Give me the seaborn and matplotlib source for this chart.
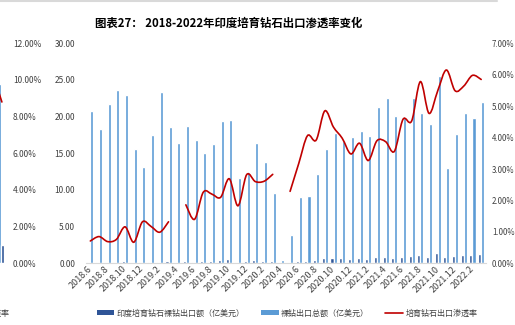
import matplotlib
matplotlib.use("Agg")
import numpy as np
import pandas as pd
import seaborn as sns
import matplotlib.pyplot as plt
from matplotlib.path import Path
from matplotlib.patches import PathPatch, Patch
from matplotlib.lines import Line2D

# ---------------- data ----------------
months = ["2018.6", "2018.7", "2018.8", "2018.9", "2018.10", "2018.11", "2018.12",
          "2019.1", "2019.2", "2019.3", "2019.4", "2019.5", "2019.6", "2019.7", "2019.8",
          "2019.9", "2019.10", "2019.11", "2019.12", "2020.1", "2020.2", "2020.3", "2020.4",
          "2020.5", "2020.6", "2020.7", "2020.8", "2020.9", "2020.10", "2020.11", "2020.12",
          "2021.1", "2021.2", "2021.3", "2021.4", "2021.5", "2021.6", "2021.7", "2021.8",
          "2021.9", "2021.10", "2021.11", "2021.12", "2022.1", "2022.2", "2022.3"]

# 印度培育钻石裸钻出口额（亿美元）
lab_export = [0.15, 0.16, 0.15, 0.18, 0.27, 0.10, 0.17, 0.20, 0.23, 0.25, 0.0, 0.35,
              0.24, 0.34, 0.36, 0.41, 0.52, 0.21, 0.35, 0.43, 0.36, 0.27, 0.0, 0.09,
              0.29, 0.37, 0.48, 0.76, 0.77, 0.66, 0.60, 0.69, 0.57, 0.83, 0.87, 0.72,
              0.91, 1.02, 1.18, 0.91, 1.40, 0.80, 0.97, 1.16, 1.18, 1.29]

# 裸钻出口总额（亿美元）
total_export = [20.8, 18.3, 21.7, 23.6, 23.0, 15.6, 13.1, 17.5, 23.4, 18.6, 16.4, 18.7,
                16.8, 15.0, 16.3, 19.4, 19.5, 11.6, 12.5, 16.4, 13.8, 9.6, 0.4, 3.9,
                9.0, 9.2, 12.2, 15.6, 17.8, 16.7, 17.2, 18.0, 17.3, 21.3, 22.5, 20.1,
                19.9, 22.5, 20.5, 19.0, 25.5, 13.0, 17.6, 20.5, 19.8, 22.0]

# 培育钻石出口渗透率（%）
penetration = [0.71, 0.85, 0.69, 0.76, 1.16, 0.67, 1.32, 1.17, 0.99, 1.32, np.nan, 1.86,
               1.40, 2.26, 2.20, 2.10, 2.69, 1.83, 2.82, 2.60, 2.61, 2.83, np.nan, 2.29,
               3.18, 4.06, 3.92, 4.85, 4.33, 3.98, 3.48, 3.82, 3.27, 3.90, 3.87, 3.56,
               4.58, 4.53, 5.78, 4.77, 5.49, 6.15, 5.49, 5.64, 5.98, 5.85]

left_ticks = [0, 5, 10, 15, 20, 25, 30]
right_ticks = [0, 1, 2, 3, 4, 5, 6, 7]

# fragment of the neighbouring (cut-off) chart on the far left
frag_ticks = [0, 2, 4, 6, 8, 10, 12]
frag_light = [9.8]
frag_dark = [1.0]
frag_rate_x = [-0.5, 0.1]
frag_rate = [9.7, 8.8]

title = "图表27： 2018-2022年印度培育钻石出口渗透率变化"
name_dark = "印度培育钻石裸钻出口额（亿美元）"
name_light = "裸钻出口总额（亿美元）"
name_rate = "培育钻石出口渗透率"

c_dark = "#2F5597"
c_light = "#5B9BD5"
c_red = "#C00000"
c_text = "#404040"

# ---------------- style ----------------
sns.set_theme(style="white")
plt.rcParams["font.family"] = ["Noto Sans CJK SC", "DejaVu Sans"]

W, H = 515, 325
fig = plt.figure(figsize=(W / 100, H / 100), dpi=100)
fig.patch.set_facecolor("white")

x0, x1, y0, y1 = 86, 485.5, 43.3, 263.3
ax = fig.add_axes([x0 / W, 1 - y1 / H, (x1 - x0) / W, (y1 - y0) / H])

df = pd.DataFrame({
    "月份": months * 2,
    "系列": [name_dark] * len(months) + [name_light] * len(months),
    "值": lab_export + total_export,
})
sns.barplot(data=df, x="月份", y="值", hue="系列", hue_order=[name_dark, name_light],
            palette=[c_dark, c_light], width=0.7, saturation=1, legend=False,
            errorbar=None, ax=ax)

ax.set_xlim(-0.5, len(months) - 0.5)
ax.set_ylim(0, 30)
ax.set_yticks(left_ticks)
ax.set_yticklabels([f"{v:.2f}" for v in left_ticks])
ax.set_xticks(range(0, len(months), 2))
ax.set_xticklabels(months[::2], rotation=45, ha="right", va="center",
                   rotation_mode="anchor")
ax.set_xlabel("")
ax.set_ylabel("")
for s in ["left", "right", "top"]:
    ax.spines[s].set_visible(False)
ax.spines["bottom"].set_color("#D9D9D9")
ax.spines["bottom"].set_linewidth(0.8)
ax.tick_params(axis="y", length=0, pad=7.9, labelsize=6, labelcolor=c_text)
ax.tick_params(axis="x", length=0, pad=3, labelsize=6.5, labelcolor=c_text)
ax.grid(False)

ax2 = ax.twinx()
ax2.set_ylim(0, 7)
ax2.set_yticks(right_ticks)
ax2.set_yticklabels([f"{v:.2f}%" for v in right_ticks])
for s in ax2.spines.values():
    s.set_visible(False)
ax2.tick_params(axis="y", length=0, pad=4.6, labelsize=5.7, labelcolor=c_text)
ax2.grid(False)


def smooth_path(xs, ys):
    """Catmull-Rom style smoothing as Bezier curves through the data points."""
    pts = np.column_stack([xs, ys])
    verts = [pts[0]]
    codes = [Path.MOVETO]
    n = len(pts)
    for i in range(n - 1):
        p0 = pts[i - 1] if i > 0 else pts[i]
        p1 = pts[i]
        p2 = pts[i + 1]
        p3 = pts[i + 2] if i + 2 < n else pts[i + 1]
        c1 = p1 + (p2 - p0) / 6.0
        c2 = p2 - (p3 - p1) / 6.0
        verts += [c1, c2, p2]
        codes += [Path.CURVE4] * 3
    return Path(verts, codes)


rate = np.array(penetration, dtype=float)
xs = np.arange(len(months))
valid = ~np.isnan(rate)
start = None
for i in range(len(rate) + 1):
    ok = i < len(rate) and valid[i]
    if ok and start is None:
        start = i
    elif not ok and start is not None:
        seg = slice(start, i)
        if i - start > 1:
            ax2.add_patch(PathPatch(smooth_path(xs[seg], rate[seg]), fill=False,
                                    edgecolor=c_red, lw=1.2, capstyle="round"))
        start = None

# ---------------- fragment of neighbouring chart ----------------
fw = 8.7
axf = fig.add_axes([(1 - fw / 2) / W, 1 - y1 / H, fw / W, (y1 - y0) / H])
axf.set_xlim(-0.5, 0.5)
axf.set_ylim(0, 12)
axf.bar([-0.175], frag_light, width=0.35, color=c_light)
axf.bar([0.175], frag_dark, width=0.35, color=c_dark)
axf.plot(frag_rate_x, frag_rate, color=c_red, lw=1.2)
axf.patch.set_alpha(0)
for s in axf.spines.values():
    s.set_visible(False)
axf.set_xticks([])
axf.yaxis.tick_right()
axf.set_yticks(frag_ticks)
axf.set_yticklabels([f"{v:.2f}%" for v in frag_ticks])
axf.tick_params(axis="y", length=0, pad=5.5, labelsize=6, labelcolor=c_text)
axf.grid(False)
fig.text(10 / W, 1 - 313 / H, name_rate, ha="right", va="center",
         fontsize=5.8, color=c_text)

# ---------------- title, legend, frame line ----------------
fig.text(228.5 / W, 1 - 23.3 / H, title, ha="center", va="center",
         fontsize=8.2, fontweight="bold", color="black")

handles = [Patch(facecolor=c_dark, edgecolor="none"),
           Patch(facecolor=c_light, edgecolor="none"),
           Line2D([0], [0], color=c_red, lw=1.2)]
leg = fig.legend(handles, [name_dark, name_light, name_rate], loc="center",
                 bbox_to_anchor=(287 / W, 1 - 313 / H), ncol=3, frameon=False,
                 fontsize=5.8, handlelength=2.2, handleheight=0.5,
                 handletextpad=0.3, columnspacing=2.0, borderpad=0)
for t in leg.get_texts():
    t.set_color(c_text)

fig.add_artist(Line2D([0, 497 / W], [1 - 1 / H, 1 - 1 / H], color="#D9D9D9",
                      lw=1.5, transform=fig.transFigure))

fig.savefig("out.png", dpi=100, facecolor="white")
